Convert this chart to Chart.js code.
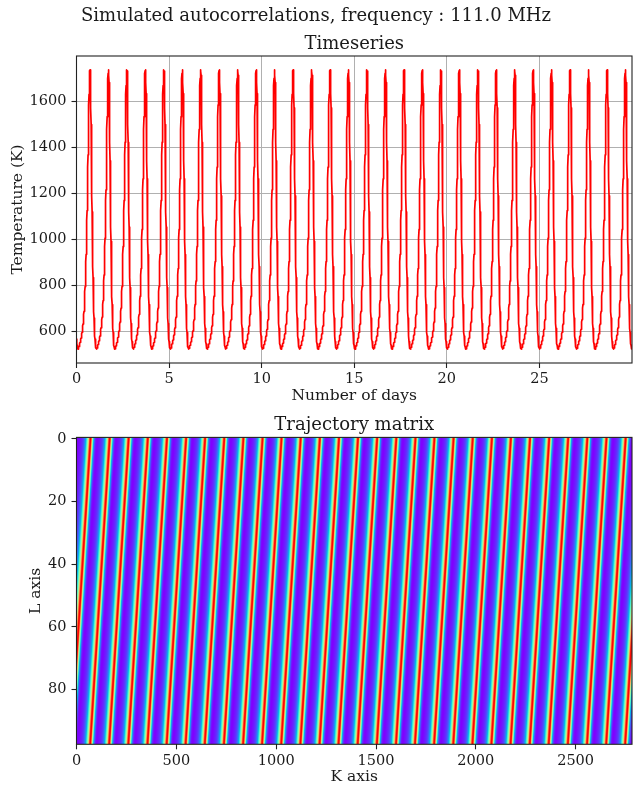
<!DOCTYPE html>
<html>
<head>
<meta charset="utf-8">
<script src="https://cdn.jsdelivr.net/npm/chart.js@4.4.1/dist/chart.umd.min.js"></script>
<style>
  html, body { margin: 0; padding: 0; background: #ffffff; }
  #wrap { position: relative; width: 633px; height: 788px; overflow: hidden; background: #ffffff; }
  #topChart { position: absolute; left: 0; top: 0; }
  #botChart { position: absolute; left: 0; top: 410px; }
</style>
</head>
<body>
<div id="wrap">
  <canvas id="topChart" width="633" height="410"></canvas>
  <canvas id="botChart" width="633" height="378"></canvas>
</div>
<script>
// ---------------- text ----------------
const SUPTITLE = 'Simulated autocorrelations, frequency : 111.0 MHz';
const TOP_TITLE = 'Timeseries';
const BOTTOM_TITLE = 'Trajectory matrix';
const X_LABEL_TOP = 'Number of days';
const Y_LABEL_TOP = 'Temperature (K)';
const X_LABEL_BOT = 'K axis';
const Y_LABEL_BOT = 'L axis';

// ---------------- data ----------------
// sampling of the simulated timeseries (15 min samples, 30 days)
const samplesPerDay = 96;
const nDays = 30;
// samples between successive temperature peaks (peaks read at ~0.73 d and ~29.63 d)
const siderealSamples = 95.74;
// one cycle of the temperature curve (K), one value per 15 min sample
const cycleProfile = [
  565, 554, 545, 538, 532, 528, 525, 523, 522,
  523, 525, 527, 530, 533, 536, 539, 542, 545, 548,
  551, 554, 558, 562, 566, 570, 574, 579, 584, 589,
  595, 601, 608, 615, 623, 631, 640, 650, 661, 673,
  686, 700, 716, 733, 752, 772, 794, 818, 844, 872,
  902, 934, 968, 1004, 1042, 1082, 1124, 1168, 1214, 1262,
  1313, 1366, 1421, 1477, 1532, 1583, 1629, 1667, 1698, 1720,
  1732,
  1735, 1730, 1712, 1680, 1632, 1570, 1498, 1420, 1340, 1262,
  1188, 1118, 1052, 990, 933, 880, 832, 789, 750, 715,
  684, 657, 633, 612, 594, 578
];
// trajectory (Hankel) matrix window length
const windowL = 98;

// ticks
const dayTicks = [0, 5, 10, 15, 20, 25];
const tempTicks = [600, 800, 1000, 1200, 1400, 1600];
const kTicks = [0, 500, 1000, 1500, 2000, 2500];
const lTicks = [0, 20, 40, 60, 80];

// ---------------- build series / matrix from the arrays ----------------
const nSamples = samplesPerDay * nDays;
const series = [];
for (let n = 0; n < nSamples; n++) {
  const idx = Math.round(n % siderealSamples) % cycleProfile.length;
  series.push(cycleProfile[idx]);
}
const tsPoints = series.map((v, n) => ({ x: n / samplesPerDay, y: v }));
const windowK = nSamples - windowL + 1;

let vmin = Infinity, vmax = -Infinity;
for (const v of series) { if (v < vmin) vmin = v; if (v > vmax) vmax = v; }
const yPad = 0.05 * (vmax - vmin);

// matplotlib "rainbow" colormap
function rainbow(t) {
  const c = (v) => Math.max(0, Math.min(1, v));
  return [
    Math.round(255 * c(Math.abs(2 * t - 0.5))),
    Math.round(255 * c(Math.sin(Math.PI * t))),
    Math.round(255 * c(Math.cos(Math.PI * t / 2)))
  ];
}

// offscreen image of the trajectory matrix: row i, column j -> series[i + j]
const off = document.createElement('canvas');
off.width = windowK; off.height = windowL;
{
  const octx = off.getContext('2d');
  const img = octx.createImageData(windowK, windowL);
  for (let i = 0; i < windowL; i++) {
    for (let j = 0; j < windowK; j++) {
      const t = (series[i + j] - vmin) / (vmax - vmin);
      const [r, g, b] = rainbow(t);
      const p = 4 * (i * windowK + j);
      img.data[p] = r; img.data[p + 1] = g; img.data[p + 2] = b; img.data[p + 3] = 255;
    }
  }
  octx.putImageData(img, 0, 0);
}

// ---------------- styles ----------------
const FAMILY = "'DejaVu Serif', serif";
const tickFont = { family: FAMILY, size: 14.5, weight: 'normal' };
const labelFont = { family: FAMILY, size: 15.5, weight: 'normal' };
const titleFont = { family: FAMILY, size: 18, weight: 'normal' };
const TXT = '#1a1a1a';

const framePlugin = {
  id: 'frame',
  afterDatasetsDraw(chart) {
    const { ctx, chartArea: a } = chart;
    ctx.save();
    ctx.strokeStyle = '#222222';
    ctx.lineWidth = 1.1;
    ctx.strokeRect(a.left, a.top, a.right - a.left, a.bottom - a.top);
    ctx.restore();
  }
};

const heatPlugin = {
  id: 'heat',
  beforeDatasetsDraw(chart) {
    const { ctx, chartArea: a, scales: { x, y } } = chart;
    const x0 = x.getPixelForValue(-0.5), x1 = x.getPixelForValue(windowK - 0.5);
    const y0 = y.getPixelForValue(-0.5), y1 = y.getPixelForValue(windowL - 0.5);
    ctx.save();
    ctx.beginPath();
    ctx.rect(a.left, a.top, a.right - a.left, a.bottom - a.top);
    ctx.clip();
    ctx.imageSmoothingEnabled = true;
    ctx.imageSmoothingQuality = 'high';
    ctx.drawImage(off, Math.min(x0, x1), Math.min(y0, y1), Math.abs(x1 - x0), Math.abs(y1 - y0));
    ctx.restore();
  }
};

const setTicks = (arr) => (s) => { s.ticks = arr.map(v => ({ value: v })); };

// ---------------- top chart: timeseries ----------------
new Chart(document.getElementById('topChart'), {
  type: 'line',
  data: {
    datasets: [{
      data: tsPoints,
      borderColor: '#ff0000',
      borderWidth: 1.7,
      borderJoinStyle: 'round',
      borderCapStyle: 'round',
      pointRadius: 0,
      tension: 0,
      fill: false
    }]
  },
  options: {
    responsive: false,
    animation: false,
    parsing: false,
    normalized: true,
    events: [],
    layout: { padding: { left: 0, right: 1, top: 0, bottom: 0 }, autoPadding: false },
    plugins: {
      legend: { display: false },
      tooltip: { enabled: false },
      title: {
        display: true, text: SUPTITLE, font: titleFont, color: TXT,
        padding: { top: 5.2, bottom: 6.4 }, fullSize: true
      },
      subtitle: {
        display: true, text: TOP_TITLE, font: titleFont, color: TXT,
        padding: { top: 0, bottom: 1.2 }, fullSize: false
      }
    },
    scales: {
      x: {
        type: 'linear', min: 0, max: 30,
        afterBuildTicks: setTicks(dayTicks),
        afterFit: (s) => { s.height = 47; },
        ticks: { callback: (v) => String(v), font: tickFont, color: TXT, padding: 3, maxRotation: 0 },
        grid: { color: '#b0b0b0', lineWidth: 1, tickColor: '#222', tickLength: 5, tickWidth: 1.1 },
        border: { display: false },
        title: { display: true, text: X_LABEL_TOP, font: labelFont, color: TXT, padding: { top: 0, bottom: 4.7 } }
      },
      y: {
        type: 'linear', min: vmin - yPad, max: vmax + yPad,
        afterBuildTicks: setTicks(tempTicks),
        afterFit: (s) => { s.width = 76.5; },
        ticks: { callback: (v) => String(v), font: tickFont, color: TXT, padding: 5 },
        grid: { color: '#b0b0b0', lineWidth: 1, tickColor: '#222', tickLength: 5, tickWidth: 1.1 },
        border: { display: false },
        title: { display: true, text: Y_LABEL_TOP, font: labelFont, color: TXT, padding: { top: 8.2, bottom: 0 } }
      }
    }
  },
  plugins: [framePlugin]
});

// ---------------- bottom chart: trajectory matrix ----------------
new Chart(document.getElementById('botChart'), {
  type: 'scatter',
  data: { datasets: [{ data: [], pointRadius: 0 }] },
  options: {
    responsive: false,
    animation: false,
    events: [],
    layout: { padding: { left: 0, right: 1, top: 0, bottom: 0 }, autoPadding: false },
    plugins: {
      legend: { display: false },
      tooltip: { enabled: false },
      title: {
        display: true, text: BOTTOM_TITLE, font: titleFont, color: TXT,
        padding: { top: 4.2, bottom: 1.6 }, fullSize: false
      }
    },
    scales: {
      x: {
        type: 'linear', min: -0.5, max: windowK - 0.5,
        afterBuildTicks: setTicks(kTicks),
        afterFit: (s) => { s.height = 43.7; },
        ticks: { callback: (v) => String(v), font: tickFont, color: TXT, padding: 3, maxRotation: 0 },
        grid: { drawOnChartArea: false, tickColor: '#222', tickLength: 5, tickWidth: 1.1 },
        border: { display: false },
        title: { display: true, text: X_LABEL_BOT, font: labelFont, color: TXT, padding: { top: 0, bottom: 1.7 } }
      },
      y: {
        type: 'linear', min: -0.5, max: windowL - 0.5, reverse: true,
        afterBuildTicks: setTicks(lTicks),
        afterFit: (s) => { s.width = 76.5; },
        ticks: { callback: (v) => String(v), font: tickFont, color: TXT, padding: 5 },
        grid: { drawOnChartArea: false, tickColor: '#222', tickLength: 5, tickWidth: 1.1 },
        border: { display: false },
        title: { display: true, text: Y_LABEL_BOT, font: labelFont, color: TXT, padding: { top: 26.7, bottom: 0 } }
      }
    }
  },
  plugins: [heatPlugin, framePlugin]
});
</script>
</body>
</html>
